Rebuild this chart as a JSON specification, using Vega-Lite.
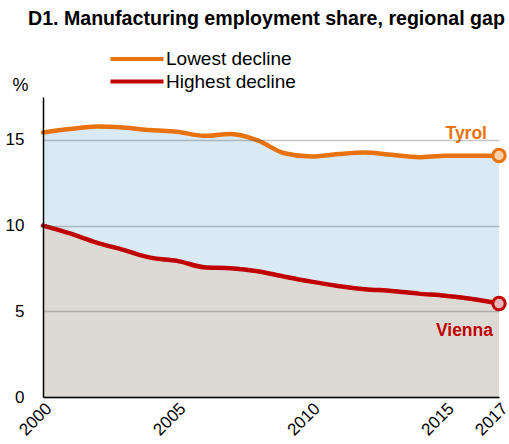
{
  "$schema": "https://vega.github.io/schema/vega-lite/v6.json",
  "width": 456,
  "height": 300,
  "autosize": {"type": "none"},
  "padding": {"left": 43, "top": 97, "right": 10, "bottom": 47},
  "background": "white",
  "title": {
    "text": "D1. Manufacturing employment share, regional gap",
    "anchor": "start",
    "frame": "group",
    "font": "Liberation Sans",
    "fontSize": 19.6,
    "fontWeight": "bold",
    "color": "#000000",
    "dx": -15,
    "offset": 17
  },
  "config": {
    "view": {"stroke": null},
    "axis": {"labelFont": "Liberation Sans", "titleFont": "Liberation Sans"}
  },
  "data": {
    "values": [
      {"year": 2000, "region": "Tyrol", "value": 15.43},
      {"year": 2001, "region": "Tyrol", "value": 15.63},
      {"year": 2002, "region": "Tyrol", "value": 15.78},
      {"year": 2003, "region": "Tyrol", "value": 15.72},
      {"year": 2004, "region": "Tyrol", "value": 15.57},
      {"year": 2005, "region": "Tyrol", "value": 15.47},
      {"year": 2006, "region": "Tyrol", "value": 15.24},
      {"year": 2007, "region": "Tyrol", "value": 15.34},
      {"year": 2008, "region": "Tyrol", "value": 14.97},
      {"year": 2009, "region": "Tyrol", "value": 14.22},
      {"year": 2010, "region": "Tyrol", "value": 14.03},
      {"year": 2011, "region": "Tyrol", "value": 14.17},
      {"year": 2012, "region": "Tyrol", "value": 14.26},
      {"year": 2013, "region": "Tyrol", "value": 14.13},
      {"year": 2014, "region": "Tyrol", "value": 13.99},
      {"year": 2015, "region": "Tyrol", "value": 14.07},
      {"year": 2016, "region": "Tyrol", "value": 14.07},
      {"year": 2017, "region": "Tyrol", "value": 14.09},
      {"year": 2000, "region": "Vienna", "value": 10.0},
      {"year": 2001, "region": "Vienna", "value": 9.55},
      {"year": 2002, "region": "Vienna", "value": 9.01},
      {"year": 2003, "region": "Vienna", "value": 8.58},
      {"year": 2004, "region": "Vienna", "value": 8.13},
      {"year": 2005, "region": "Vienna", "value": 7.94},
      {"year": 2006, "region": "Vienna", "value": 7.57},
      {"year": 2007, "region": "Vienna", "value": 7.51},
      {"year": 2008, "region": "Vienna", "value": 7.33},
      {"year": 2009, "region": "Vienna", "value": 7.02},
      {"year": 2010, "region": "Vienna", "value": 6.73},
      {"year": 2011, "region": "Vienna", "value": 6.48},
      {"year": 2012, "region": "Vienna", "value": 6.29},
      {"year": 2013, "region": "Vienna", "value": 6.19},
      {"year": 2014, "region": "Vienna", "value": 6.03},
      {"year": 2015, "region": "Vienna", "value": 5.91},
      {"year": 2016, "region": "Vienna", "value": 5.72},
      {"year": 2017, "region": "Vienna", "value": 5.45}
    ]
  },
  "encoding": {
    "x": {
      "field": "year",
      "type": "quantitative",
      "scale": {"domain": [2000, 2017], "nice": false, "zero": false},
      "axis": {
        "title": null,
        "values": [2000, 2005, 2010, 2015, 2017],
        "format": "d",
        "labelAngle": -45,
        "labelAlign": "right",
        "labelBaseline": "top",
        "labelFontSize": 17,
        "labelColor": "#000000",
        "labelPadding": 3,
        "ticks": false,
        "grid": false,
        "domainColor": "#000000",
        "domainWidth": 1.5,
        "zindex": 1,
        "labelOverlap": false
      }
    }
  },
  "layer": [
    {
      "transform": [{"filter": "datum.region == 'Vienna'"}],
      "mark": {"type": "area", "color": "#DDDAD6", "interpolate": "monotone"},
      "encoding": {
        "y": {
          "field": "value",
          "type": "quantitative",
          "scale": {"domain": [0, 17.5], "nice": false},
          "axis": {
            "title": "%",
            "titleAngle": 0,
            "titleX": -23,
            "titleY": -7,
            "titleAlign": "center",
            "titleBaseline": "alphabetic",
            "titleFontSize": 18,
            "titleFontWeight": "normal",
            "titleColor": "#000000",
            "values": [0, 5, 10, 15],
            "labelFontSize": 17,
            "labelColor": "#000000",
            "labelPadding": 19,
            "ticks": false,
            "grid": true,
            "gridColor": "#5a5a5a",
            "gridOpacity": 0.35,
            "gridWidth": 1.3,
            "domainColor": "#000000",
            "domainWidth": 1.5,
            "zindex": 1
          }
        }
      }
    },
    {
      "transform": [{"pivot": "region", "value": "value", "groupby": ["year"]}],
      "mark": {"type": "area", "color": "#DAEAF4", "interpolate": "monotone"},
      "encoding": {
        "y": {"field": "Vienna", "type": "quantitative"},
        "y2": {"field": "Tyrol"}
      }
    },
    {
      "mark": {"type": "line", "strokeWidth": 4.5, "interpolate": "monotone", "strokeCap": "round"},
      "encoding": {
        "y": {"field": "value", "type": "quantitative"},
        "color": {
          "field": "region",
          "type": "nominal",
          "scale": {"domain": ["Tyrol", "Vienna"], "range": ["#E8730E", "#C00000"]},
          "legend": {
            "title": null,
            "orient": "none",
            "legendX": 82,
            "legendY": -50,
            "padding": 0,
            "symbolType": "M-2.65,0H2.65",
            "symbolSize": 400,
            "symbolStrokeWidth": 4,
            "labelOffset": 17,
            "labelFont": "Liberation Sans",
            "labelFontSize": 19,
            "labelColor": "#000000",
            "rowPadding": 0.5,
            "labelExpr": "datum.label == 'Tyrol' ? 'Lowest decline' : 'Highest decline'"
          }
        }
      }
    },
    {
      "transform": [{"filter": "datum.year == 2017"}],
      "mark": {"type": "point", "filled": true, "size": 154, "strokeWidth": 3, "opacity": 1},
      "encoding": {
        "y": {"field": "value", "type": "quantitative"},
        "fill": {
          "field": "region",
          "type": "nominal",
          "scale": {"domain": ["Tyrol", "Vienna"], "range": ["#FBD0A8", "#E8B5BA"]},
          "legend": null
        },
        "stroke": {
          "field": "region",
          "type": "nominal",
          "scale": {"domain": ["Tyrol", "Vienna"], "range": ["#E8730E", "#C00000"]},
          "legend": null
        }
      }
    },
    {
      "transform": [{"filter": "datum.year == 2017 && datum.region == 'Tyrol'"}],
      "mark": {"type": "text", "align": "right", "baseline": "alphabetic", "dx": -12, "dy": -16, "font": "Liberation Sans", "fontSize": 17.5, "fontWeight": "bold", "color": "#E8730E"},
      "encoding": {
        "y": {"field": "value", "type": "quantitative"},
        "text": {"field": "region"}
      }
    },
    {
      "transform": [{"filter": "datum.year == 2017 && datum.region == 'Vienna'"}],
      "mark": {"type": "text", "align": "right", "baseline": "alphabetic", "dx": -6, "dy": 32, "font": "Liberation Sans", "fontSize": 17.5, "fontWeight": "bold", "color": "#C00000"},
      "encoding": {
        "y": {"field": "value", "type": "quantitative"},
        "text": {"field": "region"}
      }
    }
  ]
}
